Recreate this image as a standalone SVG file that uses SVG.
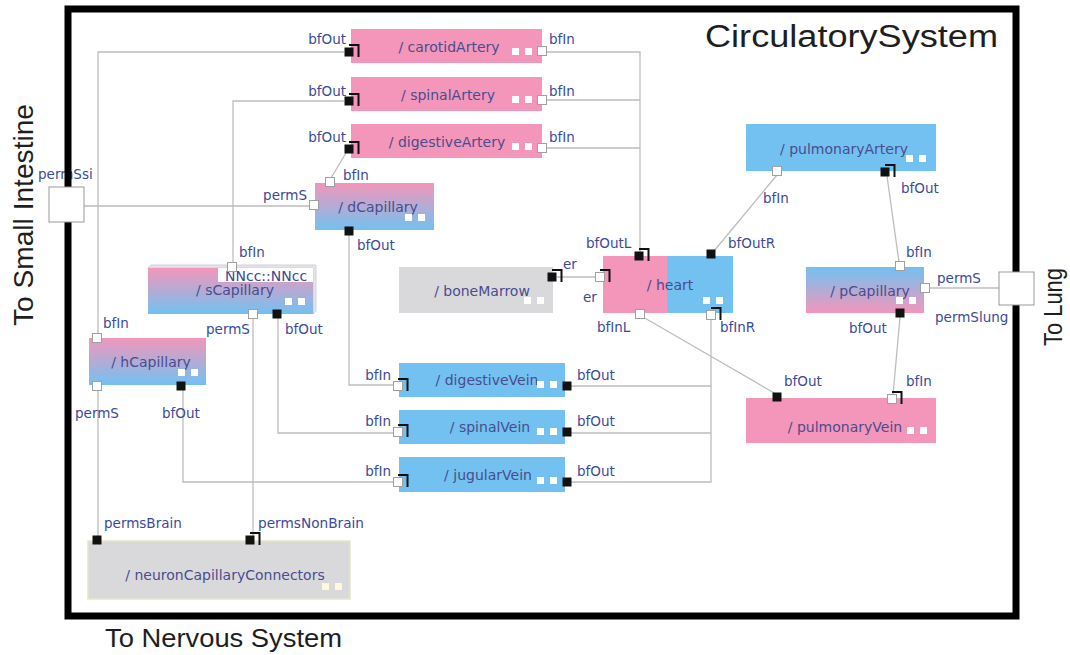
<svg xmlns="http://www.w3.org/2000/svg" xmlns:xlink="http://www.w3.org/1999/xlink" width="1070" height="655" viewBox="0 0 1070 655">
  <style>
    .pink{fill:#F396BA}
    .blue{fill:#72C1F1}
    .gray{fill:#D9D9DC}
    .name{font-family:"DejaVu Sans",Verdana,sans-serif;font-size:14px;fill:#4A4C8E;text-anchor:middle}
    .lbl{font-family:"DejaVu Sans",Verdana,sans-serif;font-size:13.5px;fill:#3A4B9B}
    .end{text-anchor:end}
    .wire{fill:none;stroke:#BDBDBD;stroke-width:1.3}
    .big{font-family:"Liberation Sans",Arial,sans-serif;fill:#1E1E1E}
  </style>
  <defs>
    <linearGradient id="pinkToBlue" x1="0" y1="0" x2="0" y2="1">
      <stop offset="0" stop-color="#F396BA"/>
      <stop offset="1" stop-color="#72C1F1"/>
    </linearGradient>
    <linearGradient id="blueToPink" x1="0" y1="0" x2="0" y2="1">
      <stop offset="0" stop-color="#72C1F1"/>
      <stop offset="1" stop-color="#F396BA"/>
    </linearGradient>
    <rect id="pOut" x="-4.5" y="-4.5" width="9" height="9" fill="#111"/>
    <rect id="pIn" x="-4.5" y="-4.5" width="9" height="9" fill="#fff" stroke="#A0A0A0" stroke-width="1"/>
    <path id="brk" d="M0,-7 H9.5 V5" fill="none" stroke="#111" stroke-width="2"/>
    <g id="dots">
      <rect width="7" height="7" fill="#fff"/>
      <rect x="13" width="7" height="7" fill="#fff"/>
    </g>
    <g id="dotsCream">
      <rect width="7" height="7" fill="#FFF8DC"/>
      <rect x="13" width="7" height="7" fill="#FFF8DC"/>
    </g>
  </defs>

  <rect width="1070" height="655" fill="#fff"/>

  <!-- captions outside the system boundary -->
  <text class="big" x="705" y="47" font-size="31" textLength="293" lengthAdjust="spacingAndGlyphs">CirculatorySystem</text>
  <text class="big" font-size="28" transform="translate(33,326) rotate(-90)" textLength="222" lengthAdjust="spacingAndGlyphs">To Small Intestine</text>
  <text class="big" font-size="25" transform="translate(1062,346) rotate(-90)" textLength="78" lengthAdjust="spacingAndGlyphs">To Lung</text>
  <text class="big" x="105" y="647" font-size="26" textLength="237" lengthAdjust="spacingAndGlyphs">To Nervous System</text>

  <!-- connectors -->
  <g id="connectors" class="wire">
    <path d="M344,52 H98 V333"/>
    <path d="M344,101 H233 V262"/>
    <path d="M346,153 L331,178"/>
    <path d="M547,52 H640 V252"/>
    <path d="M547,100 H640"/>
    <path d="M547,148 H640"/>
    <path d="M84,206 H310"/>
    <path d="M714,251 L777,175"/>
    <path d="M887,176 L899,262"/>
    <path d="M929,288 H999"/>
    <path d="M900,317 L893,395"/>
    <path d="M643,317 L776,394"/>
    <path d="M711,319 V482 H570"/>
    <path d="M570,386 H711"/>
    <path d="M570,433 H711"/>
    <path d="M349,235 V385 H394"/>
    <path d="M278,318 V433 H394"/>
    <path d="M183,390 V482 H394"/>
    <path d="M253,318 V536"/>
    <path d="M98,390 V536"/>
    <path d="M557,277 H596"/>
  </g>

  <!-- boundary port label sits under the frame -->
  <text class="lbl" x="38" y="179">permSsi</text>

  <!-- system boundary -->
  <rect id="frame" x="68" y="9" width="948" height="607" fill="none" stroke="#000" stroke-width="7"/>

  <!-- boundary ports -->
  <g id="permSsi">
    <rect x="49" y="187" width="35" height="35" fill="#fff" stroke="#999" stroke-width="1"/>
  </g>
  <g id="permSlung">
    <rect x="999" y="272" width="35" height="33" fill="#fff" stroke="#999" stroke-width="1"/>
    <text class="lbl" x="935" y="322">permSlung</text>
  </g>

  <!-- arteries -->
  <g id="carotidArtery">
    <rect class="pink" x="351" y="29" width="191" height="34"/>
    <text class="name" x="449" y="52">/ carotidArtery</text>
    <use href="#dots" x="512" y="48"/>
    <use href="#pOut" x="349" y="52"/><use href="#brk" x="349" y="52"/>
    <use href="#pIn" x="542" y="51"/>
    <text class="lbl end" x="346" y="44">bfOut</text>
    <text class="lbl" x="549" y="44">bfIn</text>
  </g>
  <g id="spinalArtery">
    <rect class="pink" x="351" y="77" width="191" height="34"/>
    <text class="name" x="448" y="100">/ spinalArtery</text>
    <use href="#dots" x="512" y="96"/>
    <use href="#pOut" x="349" y="101"/><use href="#brk" x="349" y="101"/>
    <use href="#pIn" x="542" y="100"/>
    <text class="lbl end" x="346" y="96">bfOut</text>
    <text class="lbl" x="549" y="96">bfIn</text>
  </g>
  <g id="digestiveArtery">
    <rect class="pink" x="351" y="124" width="191" height="34"/>
    <text class="name" x="447" y="147">/ digestiveArtery</text>
    <use href="#dots" x="512" y="143"/>
    <use href="#pOut" x="349" y="149"/><use href="#brk" x="349" y="149"/>
    <use href="#pIn" x="542" y="148"/>
    <text class="lbl end" x="346" y="142">bfOut</text>
    <text class="lbl" x="549" y="142">bfIn</text>
  </g>

  <g id="pulmonaryArtery">
    <rect class="blue" x="746" y="124" width="190" height="47"/>
    <text class="name" x="844" y="154">/ pulmonaryArtery</text>
    <use href="#dots" x="906" y="155"/>
    <use href="#pIn" x="777" y="171"/>
    <use href="#pOut" x="885" y="172"/><use href="#brk" x="885" y="172"/>
    <text class="lbl" x="763" y="203">bfIn</text>
    <text class="lbl" x="901" y="193">bfOut</text>
  </g>

  <!-- capillaries -->
  <g id="dCapillary">
    <rect x="315" y="183" width="119" height="47" fill="url(#pinkToBlue)"/>
    <text class="name" x="378" y="212">/ dCapillary</text>
    <use href="#dots" x="405" y="214"/>
    <use href="#pIn" x="330" y="182"/>
    <use href="#pIn" x="314" y="205"/>
    <use href="#pOut" x="349" y="231"/>
    <text class="lbl" x="343" y="180">bfIn</text>
    <text class="lbl end" x="307" y="200">permS</text>
    <text class="lbl" x="357" y="250">bfOut</text>
  </g>

  <g id="sCapillary">
    <!-- thin top and side faces give the part a stacked, 3D look -->
    <path d="M148,268 L151,265 H316 V311 L313,314 V268 Z" fill="#E4E4EC" stroke="#C8C8D2" stroke-width="0.8"/>
    <rect x="148" y="268" width="165" height="46" fill="url(#pinkToBlue)"/>
    <rect x="218" y="268" width="95" height="14" fill="#fff"/>
    <text class="lbl" x="225" y="281" style="fill:#3C4A90;font-size:14px">NNcc::NNcc</text>
    <text class="name" x="235" y="295">/ sCapillary</text>
    <use href="#dots" x="285" y="298"/>
    <use href="#pIn" x="232" y="267"/>
    <use href="#pIn" x="253" y="314"/>
    <use href="#pOut" x="277" y="314"/>
    <text class="lbl" x="239" y="257">bfIn</text>
    <text class="lbl" x="206" y="334">permS</text>
    <text class="lbl" x="285" y="334">bfOut</text>
  </g>

  <g id="hCapillary">
    <rect x="89" y="338" width="117" height="47" fill="url(#pinkToBlue)"/>
    <text class="name" x="151" y="367">/ hCapillary</text>
    <use href="#dots" x="178" y="369"/>
    <use href="#pIn" x="97" y="338"/>
    <use href="#pIn" x="97" y="386"/>
    <use href="#pOut" x="181" y="386"/>
    <text class="lbl" x="103" y="328">bfIn</text>
    <text class="lbl" x="75" y="418">permS</text>
    <text class="lbl" x="162" y="418">bfOut</text>
  </g>

  <g id="pCapillary">
    <rect x="806" y="267" width="118" height="46" fill="url(#blueToPink)"/>
    <text class="name" x="870" y="296">/ pCapillary</text>
    <use href="#dots" x="896" y="297"/>
    <use href="#pIn" x="900" y="266"/>
    <use href="#pIn" x="925" y="288"/>
    <use href="#pOut" x="900" y="313"/>
    <text class="lbl" x="906" y="257">bfIn</text>
    <text class="lbl" x="937" y="283">permS</text>
    <text class="lbl" x="849" y="333">bfOut</text>
  </g>

  <!-- heart and bone marrow -->
  <g id="boneMarrow">
    <rect class="gray" x="399" y="267" width="154" height="46"/>
    <text class="name" x="482" y="296">/ boneMarrow</text>
    <use href="#dots" x="524" y="297"/>
    <use href="#pOut" x="552" y="277"/><use href="#brk" x="552" y="277"/>
    <text class="lbl" x="563" y="269">er</text>
  </g>

  <g id="heart">
    <rect class="pink" x="603" y="256" width="65" height="57"/>
    <rect class="blue" x="667" y="256" width="66" height="57"/>
    <text class="name" x="670" y="290">/ heart</text>
    <use href="#dots" x="703" y="297"/>
    <use href="#pOut" x="639" y="256"/><use href="#brk" x="639" y="256"/>
    <use href="#pOut" x="711" y="254"/>
    <use href="#pIn" x="600" y="277"/><use href="#brk" x="600" y="277"/>
    <use href="#pIn" x="640" y="314"/>
    <use href="#pIn" x="711" y="315"/><use href="#brk" x="711" y="315"/>
    <text class="lbl" x="586" y="248">bfOutL</text>
    <text class="lbl" x="728" y="248">bfOutR</text>
    <text class="lbl" x="583" y="302">er</text>
    <text class="lbl" x="597" y="332">bfInL</text>
    <text class="lbl" x="720" y="332">bfInR</text>
  </g>

  <!-- veins -->
  <g id="digestiveVein">
    <rect class="blue" x="399" y="363" width="166" height="34"/>
    <text class="name" x="487" y="385">/ digestiveVein</text>
    <use href="#dots" x="537" y="381"/>
    <use href="#pIn" x="398" y="386"/><use href="#brk" x="398" y="386"/>
    <use href="#pOut" x="567" y="386"/>
    <text class="lbl end" x="391" y="380">bfIn</text>
    <text class="lbl" x="577" y="380">bfOut</text>
  </g>
  <g id="spinalVein">
    <rect class="blue" x="399" y="410" width="166" height="34"/>
    <text class="name" x="490" y="432">/ spinalVein</text>
    <use href="#dots" x="537" y="428"/>
    <use href="#pIn" x="398" y="432"/><use href="#brk" x="398" y="432"/>
    <use href="#pOut" x="567" y="432"/>
    <text class="lbl end" x="391" y="426">bfIn</text>
    <text class="lbl" x="577" y="426">bfOut</text>
  </g>
  <g id="jugularVein">
    <rect class="blue" x="399" y="457" width="166" height="35"/>
    <text class="name" x="488" y="480">/ jugularVein</text>
    <use href="#dots" x="537" y="477"/>
    <use href="#pIn" x="398" y="482"/><use href="#brk" x="398" y="482"/>
    <use href="#pOut" x="567" y="482"/>
    <text class="lbl end" x="391" y="476">bfIn</text>
    <text class="lbl" x="577" y="476">bfOut</text>
  </g>

  <g id="pulmonaryVein">
    <rect class="pink" x="746" y="398" width="190" height="45"/>
    <text class="name" x="845" y="432">/ pulmonaryVein</text>
    <use href="#dots" x="907" y="427"/>
    <use href="#pOut" x="777" y="397"/>
    <use href="#pIn" x="892" y="399"/><use href="#brk" x="892" y="399"/>
    <text class="lbl" x="784" y="386">bfOut</text>
    <text class="lbl" x="906" y="386">bfIn</text>
  </g>

  <!-- neuron capillary connectors -->
  <g id="neuronCapillaryConnectors">
    <rect class="gray" x="88" y="541" width="262" height="58" stroke="#E6E6C8" stroke-width="1.5"/>
    <text class="name" x="225" y="580">/ neuronCapillaryConnectors</text>
    <use href="#dotsCream" x="322" y="583"/>
    <use href="#pOut" x="97" y="540"/>
    <use href="#pOut" x="250" y="540"/><use href="#brk" x="250" y="540"/>
    <text class="lbl" x="104" y="528">permsBrain</text>
    <text class="lbl" x="258" y="528" textLength="106" lengthAdjust="spacingAndGlyphs">permsNonBrain</text>
  </g>
</svg>
